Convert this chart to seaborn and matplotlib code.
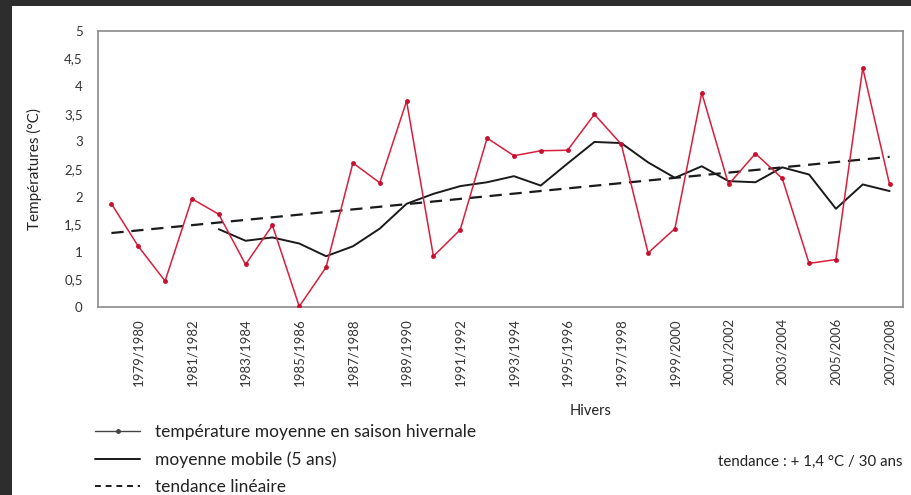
import matplotlib
matplotlib.use("Agg")
import matplotlib.pyplot as plt
import seaborn as sns
import pandas as pd
import numpy as np
from matplotlib.lines import Line2D
from matplotlib.patches import Rectangle

winters = ["1978/1979", "1979/1980", "1980/1981", "1981/1982", "1982/1983",
           "1983/1984", "1984/1985", "1985/1986", "1986/1987", "1987/1988",
           "1988/1989", "1989/1990", "1990/1991", "1991/1992", "1992/1993",
           "1993/1994", "1994/1995", "1995/1996", "1996/1997", "1997/1998",
           "1998/1999", "1999/2000", "2000/2001", "2001/2002", "2002/2003",
           "2003/2004", "2004/2005", "2005/2006", "2006/2007", "2007/2008"]

temperature = [1.87, 1.10, 0.47, 1.96, 1.68, 0.77, 1.48, 0.01, 0.72, 2.61,
               2.25, 3.73, 0.92, 1.40, 3.06, 2.74, 2.83, 2.84, 3.49, 2.95,
               0.98, 1.42, 3.88, 2.22, 2.78, 2.33, 0.79, 0.86, 4.33, 2.22]

# 5-year moving average (starts with the 5th winter)
moving_avg = [1.41, 1.20, 1.26, 1.15, 0.92, 1.10, 1.42, 1.87, 2.05, 2.19,
              2.26, 2.37, 2.20, 2.60, 2.99, 2.97, 2.62, 2.34, 2.55, 2.28,
              2.26, 2.53, 2.40, 1.78, 2.22, 2.10]

# linear trend: value at the first and at the last winter
trend = [1.34, 2.72]

yticks = [0, 0.5, 1, 1.5, 2, 2.5, 3, 3.5, 4, 4.5, 5]
ytick_labels = ["0", "0,5", "1", "1,5", "2", "2,5", "3", "3,5", "4", "4,5", "5"]

sns.set_style("white")
plt.rcParams["font.family"] = ["Lato", "DejaVu Sans"]

W, H = 911, 495
fig = plt.figure(figsize=(W / 100, H / 100), dpi=100)
fig.patch.set_facecolor("white")

# dark frame at top and left
fig.patches.append(Rectangle((0, 1 - 6 / H), 1, 6 / H, transform=fig.transFigure,
                             facecolor="#2d2d2d", edgecolor="none", zorder=10))
fig.patches.append(Rectangle((0, 0), 12 / W, 1, transform=fig.transFigure,
                             facecolor="#2d2d2d", edgecolor="none", zorder=10))

ax = fig.add_axes([98 / W, 1 - 307 / H, (903 - 98) / W, (307 - 31) / H])

n = len(temperature)
df = pd.DataFrame({"idx": np.arange(n), "temp": temperature})
ma_start = n - len(moving_avg)
df_ma = pd.DataFrame({"idx": np.arange(ma_start, n), "ma": moving_avg})
df_tr = pd.DataFrame({"idx": [0, n - 1], "tr": trend})

red = "#d81e3c"
sns.lineplot(data=df_tr, x="idx", y="tr", ax=ax, color="#1a1a1a", lw=1.6,
             zorder=2).lines[-1].set_dashes([5.5, 3.5])
sns.lineplot(data=df_ma, x="idx", y="ma", ax=ax, color="#1a1a1a", lw=1.4, zorder=3)
sns.lineplot(data=df, x="idx", y="temp", ax=ax, color=red, lw=1.1,
             marker="o", markersize=3.5, markeredgewidth=0, markerfacecolor="#c8102e",
             zorder=4)

ax.set_xlim(-0.5, n - 0.5)
ax.set_ylim(0, 5)
ax.set_yticks(yticks)
ax.set_yticklabels(ytick_labels)
tick_pos = list(range(1, n, 2))
ax.set_xticks(tick_pos)
ax.set_xticklabels([winters[i] for i in tick_pos], rotation=90)
ax.tick_params(axis="y", length=0, pad=11, labelsize=9.5, labelcolor="#333333")
ax.tick_params(axis="x", length=0, pad=8, labelsize=9.5, labelcolor="#333333")
ax.set_xlabel("")
ax.set_ylabel("Températures (°C)", fontsize=11, color="#222222")
ax.yaxis.set_label_coords(-56 / (903 - 98), 0.5)
for s in ax.spines.values():
    s.set_color("#8a8a8a")
    s.set_linewidth(1.2)

fig.text(591 / W, 1 - 411 / H, "Hivers", ha="center", va="center",
         fontsize=10.5, color="#222222")
fig.text(903 / W, 1 - 462 / H, "tendance : + 1,4 °C / 30 ans", ha="right",
         va="center", fontsize=10.8, color="#222222")

handles = [
    Line2D([], [], color="#444444", lw=1.0, marker="o", markersize=2.5),
    Line2D([], [], color="#1a1a1a", lw=1.4),
    Line2D([], [], color="#1a1a1a", lw=1.4, dashes=[3, 2.5]),
]
labels = ["température moyenne en saison hivernale", "moyenne mobile (5 ans)",
          "tendance linéaire"]
fig.legend(handles, labels, loc="upper left", bbox_to_anchor=(95 / W, 1 - 424 / H),
           frameon=False, fontsize=12.5, handlelength=2.6, handletextpad=0.85,
           labelspacing=0.66, borderaxespad=0, borderpad=0, labelcolor="#222222")

fig.savefig("out.png", dpi=100)
